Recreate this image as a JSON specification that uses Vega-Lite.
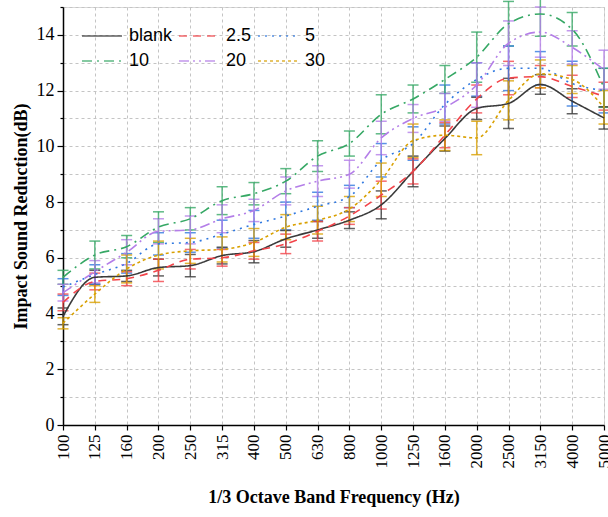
{
  "$schema": "https://vega.github.io/schema/vega-lite/v6.json",
  "width": 541,
  "height": 418,
  "autosize": {"type": "none"},
  "padding": {"left": 63, "top": 7, "right": 4, "bottom": 92},
  "background": "white",
  "config": {
    "view": {"stroke": "#d9d9d9"},
    "font": "Liberation Serif",
    "legend": {
      "orient": "none",
      "legendX": 18,
      "legendY": 8,
      "direction": "horizontal",
      "columns": 3,
      "gridAlign": "none",
      "symbolType": "stroke",
      "symbolSize": 1600,
      "symbolStrokeWidth": 1.6,
      "labelFont": "Liberation Sans",
      "labelFontSize": 18,
      "labelColor": "black",
      "labelOffset": 6,
      "columnPadding": 2,
      "rowPadding": -5
    }
  },
  "data": {
    "values": [
      {"freq": "100", "series": "blank", "v": 3.9, "err": 0.3},
      {"freq": "125", "series": "blank", "v": 5.3, "err": 0.25},
      {"freq": "160", "series": "blank", "v": 5.35, "err": 0.2},
      {"freq": "200", "series": "blank", "v": 5.65, "err": 0.3},
      {"freq": "250", "series": "blank", "v": 5.72, "err": 0.4},
      {"freq": "315", "series": "blank", "v": 6.08, "err": 0.3},
      {"freq": "400", "series": "blank", "v": 6.22, "err": 0.4},
      {"freq": "500", "series": "blank", "v": 6.68, "err": 0.3},
      {"freq": "630", "series": "blank", "v": 7.0, "err": 0.3},
      {"freq": "800", "series": "blank", "v": 7.35, "err": 0.3},
      {"freq": "1000", "series": "blank", "v": 7.9, "err": 0.5},
      {"freq": "1250", "series": "blank", "v": 9.1, "err": 0.55},
      {"freq": "1600", "series": "blank", "v": 10.28, "err": 0.45},
      {"freq": "2000", "series": "blank", "v": 11.36, "err": 0.4},
      {"freq": "2500", "series": "blank", "v": 11.54, "err": 0.9},
      {"freq": "3150", "series": "blank", "v": 12.22, "err": 0.35},
      {"freq": "4000", "series": "blank", "v": 11.62, "err": 0.45},
      {"freq": "5000", "series": "blank", "v": 11.02, "err": 0.4},

      {"freq": "100", "series": "2.5", "v": 4.4, "err": 0.3},
      {"freq": "125", "series": "2.5", "v": 5.15, "err": 0.3},
      {"freq": "160", "series": "2.5", "v": 5.25, "err": 0.25},
      {"freq": "200", "series": "2.5", "v": 5.55, "err": 0.4},
      {"freq": "250", "series": "2.5", "v": 5.95, "err": 0.35},
      {"freq": "315", "series": "2.5", "v": 6.0, "err": 0.3},
      {"freq": "400", "series": "2.5", "v": 6.25, "err": 0.3},
      {"freq": "500", "series": "2.5", "v": 6.5, "err": 0.35},
      {"freq": "630", "series": "2.5", "v": 6.95, "err": 0.35},
      {"freq": "800", "series": "2.5", "v": 7.5, "err": 0.3},
      {"freq": "1000", "series": "2.5", "v": 8.25, "err": 0.5},
      {"freq": "1250", "series": "2.5", "v": 9.1, "err": 0.45},
      {"freq": "1600", "series": "2.5", "v": 10.4, "err": 0.45},
      {"freq": "2000", "series": "2.5", "v": 11.7, "err": 0.5},
      {"freq": "2500", "series": "2.5", "v": 12.45, "err": 0.6},
      {"freq": "3150", "series": "2.5", "v": 12.5, "err": 0.4},
      {"freq": "4000", "series": "2.5", "v": 12.15, "err": 0.4},
      {"freq": "5000", "series": "2.5", "v": 11.8, "err": 0.5},

      {"freq": "100", "series": "5", "v": 4.95, "err": 0.3},
      {"freq": "125", "series": "5", "v": 5.4, "err": 0.35},
      {"freq": "160", "series": "5", "v": 5.8, "err": 0.35},
      {"freq": "200", "series": "5", "v": 6.5, "err": 0.4},
      {"freq": "250", "series": "5", "v": 6.55, "err": 0.35},
      {"freq": "315", "series": "5", "v": 6.85, "err": 0.5},
      {"freq": "400", "series": "5", "v": 7.2, "err": 0.5},
      {"freq": "500", "series": "5", "v": 7.5, "err": 0.5},
      {"freq": "630", "series": "5", "v": 7.85, "err": 0.5},
      {"freq": "800", "series": "5", "v": 8.2, "err": 0.4},
      {"freq": "1000", "series": "5", "v": 9.5, "err": 0.6},
      {"freq": "1250", "series": "5", "v": 10.1, "err": 0.6},
      {"freq": "1600", "series": "5", "v": 11.5, "err": 0.7},
      {"freq": "2000", "series": "5", "v": 12.4, "err": 0.6},
      {"freq": "2500", "series": "5", "v": 12.8, "err": 0.8},
      {"freq": "3150", "series": "5", "v": 12.8, "err": 0.6},
      {"freq": "4000", "series": "5", "v": 12.25, "err": 0.8},
      {"freq": "5000", "series": "5", "v": 12.0, "err": 0.8},

      {"freq": "100", "series": "10", "v": 5.3, "err": 0.25},
      {"freq": "125", "series": "10", "v": 6.1, "err": 0.5},
      {"freq": "160", "series": "10", "v": 6.4, "err": 0.4},
      {"freq": "200", "series": "10", "v": 7.1, "err": 0.55},
      {"freq": "250", "series": "10", "v": 7.4, "err": 0.4},
      {"freq": "315", "series": "10", "v": 8.05, "err": 0.5},
      {"freq": "400", "series": "10", "v": 8.3, "err": 0.4},
      {"freq": "500", "series": "10", "v": 8.75, "err": 0.45},
      {"freq": "630", "series": "10", "v": 9.65, "err": 0.55},
      {"freq": "800", "series": "10", "v": 10.1, "err": 0.45},
      {"freq": "1000", "series": "10", "v": 11.15, "err": 0.7},
      {"freq": "1250", "series": "10", "v": 11.7, "err": 0.5},
      {"freq": "1600", "series": "10", "v": 12.4, "err": 0.5},
      {"freq": "2000", "series": "10", "v": 13.2, "err": 0.9},
      {"freq": "2500", "series": "10", "v": 14.4, "err": 0.8},
      {"freq": "3150", "series": "10", "v": 14.75, "err": 0.8},
      {"freq": "4000", "series": "10", "v": 14.2, "err": 0.6},
      {"freq": "5000", "series": "10", "v": 12.1, "err": 0.7},

      {"freq": "100", "series": "20", "v": 4.75, "err": 0.3},
      {"freq": "125", "series": "20", "v": 5.5, "err": 0.4},
      {"freq": "160", "series": "20", "v": 6.2, "err": 0.45},
      {"freq": "200", "series": "20", "v": 6.95, "err": 0.45},
      {"freq": "250", "series": "20", "v": 7.0, "err": 0.5},
      {"freq": "315", "series": "20", "v": 7.4, "err": 0.5},
      {"freq": "400", "series": "20", "v": 7.7, "err": 0.4},
      {"freq": "500", "series": "20", "v": 8.4, "err": 0.5},
      {"freq": "630", "series": "20", "v": 8.75, "err": 0.55},
      {"freq": "800", "series": "20", "v": 9.0, "err": 0.5},
      {"freq": "1000", "series": "20", "v": 10.3, "err": 0.6},
      {"freq": "1250", "series": "20", "v": 11.0, "err": 0.5},
      {"freq": "1600", "series": "20", "v": 11.4, "err": 0.5},
      {"freq": "2000", "series": "20", "v": 12.2, "err": 0.8},
      {"freq": "2500", "series": "20", "v": 13.7, "err": 0.8},
      {"freq": "3150", "series": "20", "v": 14.1, "err": 0.9},
      {"freq": "4000", "series": "20", "v": 13.55, "err": 0.6},
      {"freq": "5000", "series": "20", "v": 12.75, "err": 0.7},

      {"freq": "100", "series": "30", "v": 3.65, "err": 0.2},
      {"freq": "125", "series": "30", "v": 4.7, "err": 0.3},
      {"freq": "160", "series": "30", "v": 5.6, "err": 0.5},
      {"freq": "200", "series": "30", "v": 6.1, "err": 0.5},
      {"freq": "250", "series": "30", "v": 6.25, "err": 0.45},
      {"freq": "315", "series": "30", "v": 6.3, "err": 0.45},
      {"freq": "400", "series": "30", "v": 6.55, "err": 0.5},
      {"freq": "500", "series": "30", "v": 7.1, "err": 0.45},
      {"freq": "630", "series": "30", "v": 7.35, "err": 0.5},
      {"freq": "800", "series": "30", "v": 7.75, "err": 0.45},
      {"freq": "1000", "series": "30", "v": 8.8, "err": 0.6},
      {"freq": "1250", "series": "30", "v": 10.2, "err": 0.6},
      {"freq": "1600", "series": "30", "v": 10.4, "err": 0.55},
      {"freq": "2000", "series": "30", "v": 10.3, "err": 0.6},
      {"freq": "2500", "series": "30", "v": 11.65, "err": 0.7},
      {"freq": "3150", "series": "30", "v": 12.6, "err": 0.5},
      {"freq": "4000", "series": "30", "v": 12.4, "err": 0.5},
      {"freq": "5000", "series": "30", "v": 11.4, "err": 0.6}
    ]
  },
  "encoding": {
    "x": {
      "field": "freq",
      "type": "ordinal",
      "sort": null,
      "scale": {"type": "point", "padding": 0},
      "axis": {
        "title": "1/3 Octave Band Frequency (Hz)",
        "titleFont": "Liberation Serif",
        "titleFontWeight": "bold",
        "titleFontSize": 18,
        "titleColor": "black",
        "titlePadding": 20,
        "labelAngle": -90,
        "labelFont": "Liberation Serif",
        "labelFontSize": 17,
        "labelColor": "black",
        "labelPadding": 4,
        "labelOverlap": false,
        "domainColor": "black",
        "domainWidth": 1.5,
        "tickColor": "black",
        "tickSize": 5,
        "tickWidth": 1.2,
        "grid": true,
        "gridColor": "#c4c4c4",
        "gridDash": [3, 3],
        "gridWidth": 1
      }
    },
    "y": {
      "field": "v",
      "type": "quantitative",
      "scale": {"domain": [0, 15], "nice": false},
      "axis": {
        "title": "Impact Sound Reduction(dB)",
        "titleFont": "Liberation Serif",
        "titleFontWeight": "bold",
        "titleFontSize": 18,
        "titleColor": "black",
        "titlePadding": 6,
        "values": [0, 1, 2, 3, 4, 5, 6, 7, 8, 9, 10, 11, 12, 13, 14, 15],
        "labelExpr": "datum.value % 2 === 0 && datum.value < 15 ? datum.label : ''",
        "labelFont": "Liberation Serif",
        "labelFontSize": 18,
        "labelColor": "black",
        "labelPadding": 3,
        "domainColor": "black",
        "domainWidth": 1.5,
        "tickColor": "black",
        "tickWidth": 1.2,
        "tickSize": {"condition": {"test": "datum.value % 2 === 0", "value": 6}, "value": 3},
        "grid": true,
        "gridColor": "#c4c4c4",
        "gridDash": [3, 3],
        "gridWidth": 1
      }
    },
    "color": {
      "field": "series",
      "type": "nominal",
      "scale": {
        "domain": ["blank", "2.5", "5", "10", "20", "30"],
        "range": ["#3a3a3a", "#f2444a", "#2f78e0", "#36a865", "#b47ee8", "#d9a000"]
      },
      "legend": {"title": null}
    }
  },
  "layer": [
    {
      "mark": {"type": "errorbar", "thickness": 1.5, "opacity": 0.8, "ticks": {"size": 11, "thickness": 1.5}},
      "encoding": {
        "yError": {"field": "err"}
      }
    },
    {
      "mark": {"type": "line", "interpolate": "monotone", "strokeWidth": 1.6},
      "encoding": {
        "strokeDash": {
          "field": "series",
          "type": "nominal",
          "scale": {
            "domain": ["blank", "2.5", "5", "10", "20", "30"],
            "range": [[1, 0], [8, 6], [2, 5], [10, 5, 2, 5], [10, 4, 2, 4, 2, 4], [3, 3]]
          },
          "legend": {"title": null}
        }
      }
    }
  ]
}
